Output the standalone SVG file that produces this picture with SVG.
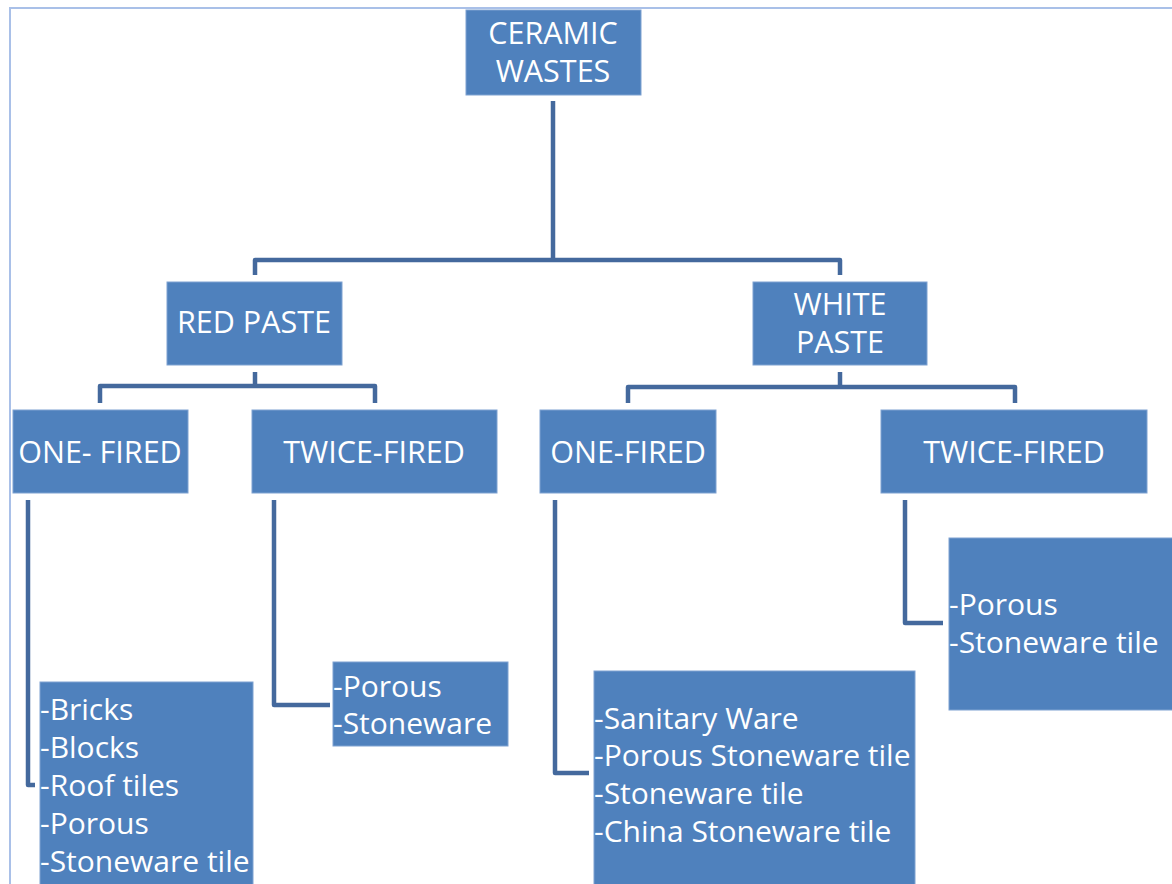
<svg xmlns="http://www.w3.org/2000/svg" width="1172" height="884" viewBox="0 0 1172 884">
<style>
.box{fill:#4f81bd;stroke:#7fa2d1;stroke-width:1}
.lbl{fill:#ffffff;font-family:"Open Sans","Noto Sans",sans-serif;font-size:30.5px;text-anchor:middle;dominant-baseline:central}
.lst{fill:#ffffff;font-family:"Open Sans","Noto Sans",sans-serif;font-size:30px;dominant-baseline:central}
.con{fill:none;stroke:#44699d;stroke-width:4.5;stroke-linejoin:round}
</style>
<rect width="1172" height="884" fill="#ffffff"/>
<path d="M10,884 V8 H1172" fill="none" stroke="#a9c0e8" stroke-width="2"/>
<g id="connectors">
<path class="con" d="M553,101 V260"/>
<path class="con" d="M255,275 V260 H840 V275"/>
<path class="con" d="M255,372 V386"/>
<path class="con" d="M100,403 V386 H375 V403"/>
<path class="con" d="M840,372 V387"/>
<path class="con" d="M628,403 V387 H1015 V403"/>
<path class="con" d="M28,500 V785 H35"/>
<path class="con" d="M274,500 V705 H330"/>
<path class="con" d="M555,500 V773 H589"/>
<path class="con" d="M905,500 V623 H943"/>
</g>
<g id="ceramic-wastes">
<rect class="box" x="466" y="10" width="175" height="85"/>
<text class="lbl" x="553" y="32">CERAMIC</text>
<text class="lbl" x="553" y="70">WASTES</text>
</g>
<g id="red-paste">
<rect class="box" x="167" y="282" width="175" height="83"/>
<text class="lbl" x="254" y="321">RED PASTE</text>
</g>
<g id="white-paste">
<rect class="box" x="753" y="282" width="174" height="83"/>
<text class="lbl" x="840" y="303">WHITE</text>
<text class="lbl" x="840" y="341">PASTE</text>
</g>
<g id="red-one-fired">
<rect class="box" x="13" y="410" width="175" height="83"/>
<text class="lbl" x="100" y="451">ONE- FIRED</text>
</g>
<g id="red-twice-fired">
<rect class="box" x="252" y="410" width="245" height="83"/>
<text class="lbl" x="374" y="451">TWICE-FIRED</text>
</g>
<g id="white-one-fired">
<rect class="box" x="540" y="410" width="176" height="83"/>
<text class="lbl" x="628" y="451">ONE-FIRED</text>
</g>
<g id="white-twice-fired">
<rect class="box" x="881" y="410" width="266" height="83"/>
<text class="lbl" x="1014" y="451">TWICE-FIRED</text>
</g>
<g id="red-one-fired-list">
<rect class="box" x="40" y="682" width="213" height="210"/>
<text class="lst" x="40" y="708">-Bricks</text>
<text class="lst" x="40" y="746">-Blocks</text>
<text class="lst" x="40" y="784">-Roof tiles</text>
<text class="lst" x="40" y="822">-Porous</text>
<text class="lst" x="40" y="860">-Stoneware tile</text>
</g>
<g id="red-twice-fired-list">
<rect class="box" x="333" y="662" width="175" height="84"/>
<text class="lst" x="333" y="685">-Porous</text>
<text class="lst" x="333" y="722">-Stoneware</text>
</g>
<g id="white-one-fired-list">
<rect class="box" x="594" y="671" width="321" height="221"/>
<text class="lst" x="594" y="717">-Sanitary Ware</text>
<text class="lst" x="594" y="754">-Porous Stoneware tile</text>
<text class="lst" x="594" y="792">-Stoneware tile</text>
<text class="lst" x="594" y="830">-China Stoneware tile</text>
</g>
<g id="white-twice-fired-list">
<rect class="box" x="949" y="538" width="230" height="172"/>
<text class="lst" x="949" y="603">-Porous</text>
<text class="lst" x="949" y="641">-Stoneware tile</text>
</g>
</svg>
